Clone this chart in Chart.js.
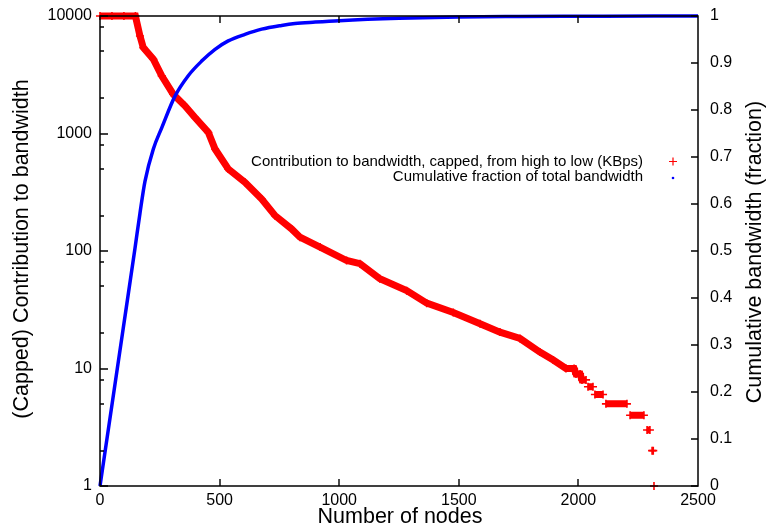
<!DOCTYPE html>
<html>
<head>
<meta charset="utf-8">
<script src="https://cdn.jsdelivr.net/npm/chart.js@4/dist/chart.umd.min.js"></script>
<style>
html,body{margin:0;padding:0;background:#fff;}
#c{display:block;}
</style>
</head>
<body>
<canvas id="c" width="766" height="529"></canvas>
<script>
// ---- data ----
const redNodes  = [0, 50, 100, 148, 167, 181, 223, 258, 306, 355, 397, 453, 481, 536, 606, 676, 732, 801, 836, 920, 1031, 1087, 1170, 1282, 1366, 1477, 1589, 1672, 1756, 1839, 1895, 1948, 1982, 1990, 2007, 2015, 2032, null, 2040, 2061, null, 2069, 2103, null, 2115, 2203, null, 2216, 2274, null, 2287, 2299, null, 2308, 2313, null, 2316];
const redValues = [10000, 10000, 10000, 10000, 6761, 5383, 4287, 3092, 2161, 1722, 1368, 1020, 738, 499, 384, 277, 200, 154, 131, 108, 83, 78, 58, 46, 36, 30, 24, 20.4, 18, 13.8, 11.8, 10, 10, 9, 9, 8, 8, null, 7, 7, null, 6, 6, null, 5, 5, null, 4, 4, null, 3, 3, null, 2, 2, null, 1];

const blueNodes = [0, 97, 146, 167, 188, 223, 258, 314, 369, 425, 481, 536, 606, 676, 759, 815, 900, 1000, 1250, 1500, 1750, 2000, 2316, 2500];
const blueFrac  = [0, 0.335, 0.505, 0.58, 0.648, 0.717, 0.762, 0.830, 0.873, 0.904, 0.929, 0.947, 0.961, 0.972, 0.980, 0.984, 0.987, 0.990, 0.995, 0.998, 0.999, 0.9995, 1.0, 1.0];

const xTickValues  = [0, 500, 1000, 1500, 2000, 2500];
const yTickValues  = [1, 10, 100, 1000, 10000];
const yMinorFactors = [2, 5, 8];
const y1TickValues = [0, 0.1, 0.2, 0.3, 0.4, 0.5, 0.6, 0.7, 0.8, 0.9, 1];

const seriesLabels = [
  'Contribution to bandwidth, capped, from high to low (KBps)',
  'Cumulative fraction of total bandwidth'
];
const xTitle = 'Number of nodes';
const yTitle = '(Capped) Contribution to bandwidth';
const y1Title = 'Cumulative bandwidth (fraction)';

// ---- build chart ----
const FONT = '"Liberation Sans", Arial, Helvetica, sans-serif';
const redData = redNodes.map((n, i) => ({x: n === null ? (redNodes[i-1]) : n, y: redValues[i]}));
const blueData = blueNodes.map((n, i) => ({x: n, y: blueFrac[i]}));

const framePlugin = {
  id: 'frame',
  afterDraw(chart) {
    const {ctx, chartArea: a, scales} = chart;
    const x = scales.x, y = scales.y, y1 = scales.y1;
    ctx.save();
    ctx.strokeStyle = '#000';
    ctx.lineWidth = 1.4;
    ctx.beginPath();
    xTickValues.forEach(v => {
      if (v === x.min || v === x.max) return;
      const px = Math.round(x.getPixelForValue(v));
      ctx.moveTo(px, a.bottom); ctx.lineTo(px, a.bottom - 7);
      ctx.moveTo(px, a.top); ctx.lineTo(px, a.top + 7);
    });
    yTickValues.forEach(v => {
      const py = Math.round(y.getPixelForValue(v));
      ctx.moveTo(a.left, py); ctx.lineTo(a.left + 8, py);
      yMinorFactors.forEach(f => {
        const m = v * f;
        if (m > y.max) return;
        const pm = Math.round(y.getPixelForValue(m));
        ctx.moveTo(a.left, pm); ctx.lineTo(a.left + 4, pm);
      });
    });
    y1TickValues.forEach(v => {
      const py = Math.round(y1.getPixelForValue(v));
      ctx.moveTo(a.right, py); ctx.lineTo(a.right - 7, py);
    });
    ctx.stroke();
    ctx.lineWidth = 1.5;
    ctx.strokeRect(a.left, a.top, a.right - a.left, a.bottom - a.top);

    // legend
    ctx.fillStyle = '#000';
    ctx.font = '15px ' + FONT;
    ctx.textAlign = 'right';
    ctx.textBaseline = 'middle';
    ctx.fillText(seriesLabels[0], 643, 162);
    ctx.fillText(seriesLabels[1], 643, 177);
    ctx.strokeStyle = '#ff0000';
    ctx.lineWidth = 1.2;
    ctx.beginPath();
    ctx.moveTo(669, 161.5); ctx.lineTo(677, 161.5);
    ctx.moveTo(673, 157.5); ctx.lineTo(673, 165.5);
    ctx.stroke();
    ctx.fillStyle = '#0000ff';
    ctx.beginPath();
    ctx.arc(673, 178, 1.3, 0, Math.PI * 2);
    ctx.fill();

    // axis titles
    ctx.fillStyle = '#000';
    ctx.font = '21.5px ' + FONT;
    ctx.textAlign = 'center';
    ctx.textBaseline = 'middle';
    ctx.fillText(xTitle, 400, 517);
    ctx.save();
    ctx.translate(22, 249);
    ctx.rotate(-Math.PI / 2);
    ctx.fillText(yTitle, 0, 0);
    ctx.restore();
    ctx.save();
    ctx.translate(755, 252);
    ctx.rotate(-Math.PI / 2);
    ctx.fillText(y1Title, 0, 0);
    ctx.restore();
    ctx.restore();
  }
};

new Chart(document.getElementById('c'), {
  type: 'line',
  data: {
    datasets: [
      {
        label: seriesLabels[1],
        data: blueData,
        yAxisID: 'y1',
        borderColor: '#0000ff',
        borderWidth: 3.5,
        pointRadius: 0,
        cubicInterpolationMode: 'monotone',
        clip: 8,
        order: 0
      },
      {
        label: seriesLabels[0],
        data: redData,
        yAxisID: 'y',
        borderColor: '#ff0000',
        backgroundColor: '#ff0000',
        borderWidth: 7,
        pointStyle: 'cross',
        pointRadius: 4,
        pointBorderWidth: 1.6,
        pointBorderColor: '#ff0000',
        spanGaps: false,
        clip: 8,
        order: 1
      }
    ]
  },
  options: {
    responsive: false,
    animation: false,
    devicePixelRatio: 1,
    layout: {padding: {top: 15, left: 0, right: 0, bottom: 0}},
    plugins: {legend: {display: false}, tooltip: {enabled: false}},
    scales: {
      x: {
        type: 'linear', min: 0, max: 2500,
        afterBuildTicks: s => { s.ticks = xTickValues.map(v => ({value: v})); },
        ticks: {color: '#000', font: {size: 16, family: FONT}, padding: 5, maxRotation: 0, autoSkip: false,
                callback: v => String(v)},
        grid: {display: false, drawTicks: false},
        border: {display: false},
        afterFit: s => { s.height = 43; }
      },
      y: {
        type: 'logarithmic', position: 'left', min: 1, max: 10000,
        afterBuildTicks: s => { s.ticks = yTickValues.map(v => ({value: v})); },
        ticks: {color: '#000', font: {size: 16, family: FONT, lineHeight: 0.5}, padding: 8, autoSkip: false,
                callback: v => String(v)},
        grid: {display: false, drawTicks: false},
        border: {display: false},
        afterFit: s => { s.width = 100; }
      },
      y1: {
        type: 'linear', position: 'right', min: 0, max: 1,
        afterBuildTicks: s => { s.ticks = y1TickValues.map(v => ({value: v})); },
        ticks: {color: '#000', font: {size: 16, family: FONT, lineHeight: 0.5}, padding: 12, autoSkip: false,
                callback: v => String(Math.round(v * 10) / 10)},
        grid: {display: false, drawTicks: false},
        border: {display: false},
        afterFit: s => { s.width = 68; }
      }
    }
  },
  plugins: [framePlugin]
});
</script>
</body>
</html>
